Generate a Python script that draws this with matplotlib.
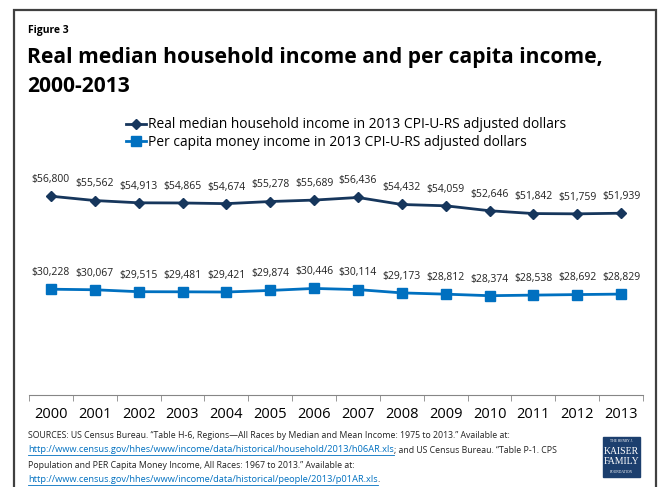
import matplotlib.pyplot as plt
import matplotlib.patches as mpatches
from matplotlib.lines import Line2D

years = [str(y) for y in range(2000, 2014)]
household = [56800, 55562, 54913, 54865, 54674, 55278, 55689, 56436,
             54432, 54059, 52646, 51842, 51759, 51939]
per_capita = [30228, 30067, 29515, 29481, 29421, 29874, 30446, 30114,
              29173, 28812, 28374, 28538, 28692, 28829]
labels = ["Real median household income in 2013 CPI-U-RS adjusted dollars",
          "Per capita money income in 2013 CPI-U-RS adjusted dollars"]

NAVY = "#16365c"
BLUE = "#0070c0"
FONT = "Open Sans"

W, H = 660, 487
fig = plt.figure(figsize=(W / 100, H / 100), dpi=100)


def fx(x):
    return x / W


def fy(y):
    return 1 - y / H


# outer frame
fig.patches.append(mpatches.Rectangle((fx(14), fy(500)), fx(642), fy(10) - fy(500),
                                      transform=fig.transFigure, fill=False,
                                      edgecolor="#404040", lw=1.6))

fig.text(fx(28), fy(30), "Figure 3", fontsize=7.5, fontweight="bold",
         family=FONT, va="center")
fig.text(fx(27), fy(58), "Real median household income and per capita income,",
         fontsize=15.1, fontweight="bold", family=FONT, va="center")
fig.text(fx(27), fy(86), "2000-2013", fontsize=15.1, fontweight="bold",
         family=FONT, va="center")

ax = fig.add_axes([fx(29), fy(395), fx(643) - fx(29), fy(150) - fy(395)])
x = list(range(len(years)))
l1, = ax.plot(x, household, color=NAVY, lw=2, marker="D", ms=5.5)
l2, = ax.plot(x, per_capita, color=BLUE, lw=2, marker="s", ms=7)

for vals in (household, per_capita):
    for xi, v in zip(x, vals):
        ax.annotate(f"${v:,}", (xi, v), xytext=(0, 8), textcoords="offset points",
                    ha="center", va="bottom", fontsize=7.5, family=FONT,
                    color="#222222")

ax.set_xlim(-0.5, len(years) - 0.5)
ax.set_ylim(0, 70000)
ax.set_xticks(x)
ax.set_xticklabels(years, fontsize=10.5, family=FONT)
ax.set_xticks([i - 0.5 for i in range(len(years) + 1)], minor=True)
ax.tick_params(axis="x", which="major", length=0, pad=9)
ax.tick_params(axis="x", which="minor", length=4, color="#868686", direction="out")
ax.set_yticks([])
for s in ("left", "right", "top"):
    ax.spines[s].set_visible(False)
ax.spines["bottom"].set_color("#868686")
ax.patch.set_alpha(0)

fig.legend([l1, l2], labels, loc="upper left", bbox_to_anchor=(fx(121), fy(112)),
           frameon=False, handlelength=1.4, handletextpad=0.15, labelspacing=0.2,
           borderaxespad=0, prop={"family": FONT, "size": 9.9})

# sources block
foot = [
    [("SOURCES: US Census Bureau. \u201cTable H-6, Regions\u2014All Races by Median and Mean Income: 1975 to 2013.\u201d Available at:", None)],
    [("http://www.census.gov/hhes/www/income/data/historical/household/2013/h06AR.xls", BLUE),
     ("; and US Census Bureau. \u201cTable P-1. CPS", None)],
    [("Population and PER Capita Money Income, All Races: 1967 to 2013.\u201d Available at:", None)],
    [("http://www.census.gov/hhes/www/income/data/historical/people/2013/p01AR.xls", BLUE),
     (".", None)],
]
fig.canvas.draw()
rend = fig.canvas.get_renderer()
for i, parts in enumerate(foot):
    xp = 28
    yp = 435 + i * 15
    for txt, col in parts:
        t = fig.text(fx(xp), fy(yp), txt, fontsize=6.7 if col else 6.3, family=FONT,
                     va="center", color=col or "#222222")
        bb = t.get_window_extent(rend)
        if col:
            fig.lines.append(Line2D([fx(xp), fx(xp + bb.width)], [fy(yp + 5), fy(yp + 5)],
                                    transform=fig.transFigure, color=col, lw=0.6))
        xp += bb.width

# foundation logo
fig.patches.append(mpatches.Rectangle((fx(603), fy(477)), fx(37), fy(437) - fy(477),
                                      transform=fig.transFigure, color="#1c3f6e"))
fig.text(fx(621.5), fy(441), "THE HENRY J.", fontsize=2.6, color="white",
         ha="center", va="center", family="Liberation Serif")
fig.text(fx(621.5), fy(451), "KAISER", fontsize=7, color="white",
         ha="center", va="center", family="Liberation Serif")
fig.text(fx(621.5), fy(462), "FAMILY", fontsize=7, color="white",
         ha="center", va="center", family="Liberation Serif")
fig.text(fx(621.5), fy(472), "FOUNDATION", fontsize=2.6, color="white",
         ha="center", va="center", family="Liberation Serif")

fig.savefig("out.png", dpi=100)
